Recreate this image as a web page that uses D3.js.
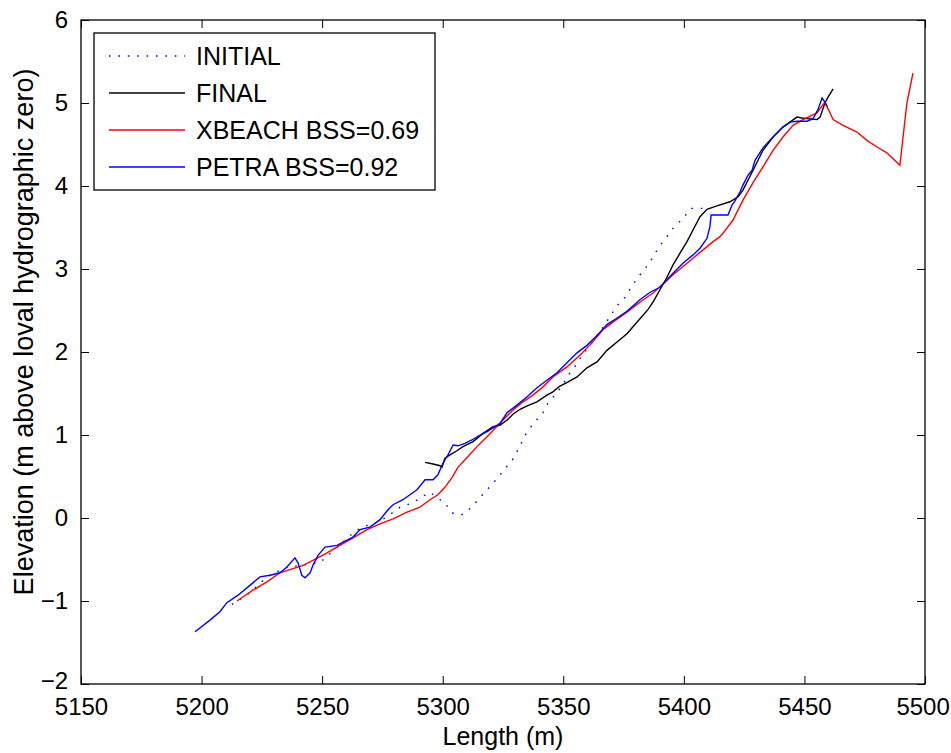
<!DOCTYPE html>
<html>
<head>
<meta charset="utf-8">
<script src="https://cdn.jsdelivr.net/npm/d3@7"></script>
<style>
  body { margin: 0; background: #fff; }
  svg text { font-family: "Liberation Sans", Arial, sans-serif; fill: #000; }
</style>
</head>
<body>
<svg id="chart" width="951" height="753"></svg>
<script>
// profile data, [length (m), elevation (m)]
var initialProfile = [[5212.6,-1.04],[5218.8,-0.93],[5223.4,-0.81],[5227.1,-0.71],[5234.6,-0.60],[5240.8,-0.57],[5249.1,-0.54],[5252.0,-0.46],[5259.5,-0.27],[5262.8,-0.18],[5266.5,-0.11],[5274.0,-0.04],[5279.0,0.06],[5282.3,0.13],[5287.3,0.18],[5290.6,0.24],[5294.7,0.31],[5300.9,0.18],[5303.9,0.06],[5308.0,0.04],[5312.1,0.13],[5314.6,0.22],[5318.4,0.34],[5322.1,0.46],[5325.4,0.58],[5328.7,0.69],[5330.8,0.80],[5332.9,0.92],[5335.0,1.04],[5338.3,1.16],[5341.6,1.27],[5343.7,1.39],[5347.4,1.51],[5350.3,1.63],[5352.8,1.75],[5355.7,1.86],[5358.2,1.98],[5361.1,2.08],[5364.0,2.20],[5367.3,2.33],[5369.8,2.45],[5372.7,2.57],[5376.0,2.67],[5378.5,2.80],[5381.0,2.90],[5384.3,3.02],[5387.2,3.14],[5389.7,3.27],[5393.0,3.39],[5395.5,3.49],[5399.6,3.61],[5403.0,3.73],[5408.4,3.73]];

var finalProfile = [[5292.7,0.67],[5296.0,0.65],[5298.9,0.63],[5299.7,0.61],[5300.9,0.72],[5303.0,0.76],[5305.9,0.81],[5308.4,0.86],[5312.6,0.92],[5316.7,1.02],[5320.9,1.10],[5323.8,1.12],[5326.7,1.18],[5329.1,1.25],[5332.1,1.31],[5335.0,1.35],[5339.1,1.40],[5343.2,1.48],[5345.7,1.52],[5348.6,1.59],[5351.5,1.63],[5355.7,1.70],[5359.8,1.81],[5364.0,1.88],[5368.1,2.02],[5372.3,2.12],[5376.4,2.22],[5381.8,2.40],[5385.1,2.51],[5387.2,2.60],[5390.1,2.75],[5393.0,2.90],[5395.5,3.05],[5398.4,3.19],[5401.3,3.33],[5403.8,3.47],[5406.7,3.63],[5409.6,3.72],[5413.7,3.76],[5419.1,3.81],[5422.5,3.87],[5424.5,3.95],[5428.7,4.19],[5432.8,4.43],[5437.0,4.59],[5441.1,4.71],[5444.0,4.77],[5446.9,4.83],[5449.0,4.82],[5455.2,4.80],[5456.5,4.83],[5458.5,5.00],[5459.8,5.07],[5461.9,5.17]];

var xbeachProfile = [[5214.7,-1.00],[5221.3,-0.87],[5227.1,-0.77],[5232.5,-0.66],[5237.9,-0.61],[5242.1,-0.57],[5246.2,-0.51],[5252.0,-0.42],[5257.4,-0.33],[5262.8,-0.24],[5268.6,-0.14],[5274.0,-0.07],[5279.4,-0.01],[5285.2,0.07],[5290.6,0.13],[5294.7,0.22],[5298.0,0.28],[5300.9,0.37],[5303.9,0.49],[5306.3,0.61],[5310.1,0.73],[5314.2,0.86],[5318.4,0.98],[5321.7,1.08],[5325.0,1.18],[5329.1,1.30],[5333.3,1.40],[5337.4,1.48],[5341.6,1.58],[5345.7,1.70],[5351.5,1.82],[5356.9,1.96],[5361.9,2.11],[5366.5,2.27],[5370.6,2.36],[5376.4,2.48],[5381.8,2.60],[5387.2,2.71],[5391.4,2.82],[5395.5,2.93],[5401.3,3.07],[5406.7,3.20],[5409.6,3.27],[5412.1,3.33],[5415.0,3.39],[5416.2,3.43],[5420.4,3.59],[5424.5,3.83],[5428.7,4.04],[5432.8,4.23],[5437.0,4.43],[5441.1,4.59],[5445.3,4.73],[5449.4,4.80],[5455.2,4.88],[5458.5,5.01],[5461.9,4.80],[5466.0,4.73],[5471.8,4.65],[5475.9,4.55],[5480.1,4.47],[5484.2,4.40],[5489.6,4.25],[5490.9,4.59],[5492.5,5.00],[5495.0,5.36]];

var petraProfile = [[5197.3,-1.37],[5203.5,-1.23],[5207.6,-1.13],[5210.5,-1.02],[5215.1,-0.93],[5219.3,-0.83],[5224.2,-0.71],[5228.4,-0.69],[5232.5,-0.66],[5235.4,-0.59],[5238.7,-0.48],[5240.0,-0.54],[5241.6,-0.69],[5242.9,-0.72],[5245.0,-0.66],[5246.2,-0.57],[5248.3,-0.45],[5251.2,-0.35],[5256.2,-0.33],[5258.7,-0.29],[5262.8,-0.23],[5265.7,-0.14],[5269.8,-0.11],[5274.0,-0.02],[5277.3,0.10],[5279.4,0.16],[5283.5,0.22],[5289.3,0.34],[5292.7,0.46],[5296.0,0.46],[5298.0,0.52],[5300.1,0.66],[5302.2,0.76],[5304.3,0.88],[5306.3,0.87],[5309.2,0.90],[5312.1,0.94],[5315.5,1.00],[5318.4,1.04],[5321.7,1.10],[5323.8,1.14],[5326.7,1.27],[5330.8,1.36],[5335.0,1.46],[5339.1,1.57],[5343.2,1.66],[5347.4,1.75],[5351.5,1.87],[5355.7,1.99],[5359.8,2.08],[5364.0,2.20],[5368.1,2.33],[5372.3,2.41],[5376.4,2.49],[5381.8,2.63],[5386.0,2.72],[5390.1,2.78],[5393.0,2.87],[5395.5,2.95],[5399.6,3.07],[5403.8,3.17],[5406.7,3.25],[5409.6,3.37],[5410.8,3.51],[5411.3,3.65],[5418.3,3.65],[5420.0,3.77],[5421.2,3.82],[5423.3,3.93],[5424.5,4.01],[5426.6,4.13],[5428.3,4.19],[5429.5,4.31],[5432.8,4.46],[5435.7,4.55],[5438.6,4.64],[5441.1,4.71],[5444.0,4.77],[5446.9,4.78],[5451.1,4.78],[5453.6,4.81],[5455.6,4.92],[5457.3,5.06],[5458.5,5.01],[5459.4,4.96]];

var xTicks = [5150, 5200, 5250, 5300, 5350, 5400, 5450, 5500];
var yTicks = [-2, -1, 0, 1, 2, 3, 4, 5, 6];
var legendLabels = ["INITIAL", "FINAL", "XBEACH BSS=0.69", "PETRA BSS=0.92"];

var margin = {top: 20, left: 81, right: 26, bottom: 69};
var svg = d3.select("#chart");
var width = 951 - margin.left - margin.right,
    height = 753 - margin.top - margin.bottom;

var x = d3.scaleLinear().domain([5150, 5500]).range([0, width]);
var y = d3.scaleLinear().domain([-2, 6]).range([height, 0]);

var g = svg.append("g").attr("transform", "translate(" + margin.left + "," + margin.top + ")");

// matlab style: ticks point inward on all four sides
var tickLen = 8;
function styleAxis(sel) {
    sel.select(".domain").remove();
    sel.selectAll(".tick line").attr("stroke", "#000");
    sel.selectAll("text").style("font-size", "24px").attr("fill", "#000");
}

g.append("g").attr("transform", "translate(0," + height + ")")
    .call(d3.axisBottom(x).tickValues(xTicks).tickFormat(d3.format("d")).tickSizeInner(-tickLen).tickPadding(14))
    .call(styleAxis);
g.append("g")
    .call(d3.axisTop(x).tickValues(xTicks).tickFormat("").tickSizeInner(-tickLen))
    .call(styleAxis);
g.append("g")
    .call(d3.axisLeft(y).tickValues(yTicks).tickFormat(d3.format("d")).tickSizeInner(-tickLen).tickPadding(13))
    .call(styleAxis);
g.append("g").attr("transform", "translate(" + width + ",0)")
    .call(d3.axisRight(y).tickValues(yTicks).tickFormat("").tickSizeInner(-tickLen))
    .call(styleAxis);

g.selectAll(".tick text").attr("font-family", "Liberation Sans, Arial, sans-serif");
// lift the lowest y label a little so it clears the 5150 label
g.selectAll(".tick text").filter(function (d) { return d === -2; }).attr("dy", "0.2em");
// keep the last x label inside the window
g.selectAll(".tick text").filter(function (d) { return d === 5500; }).attr("dx", "-0.1em");

g.append("rect")
    .attr("width", width).attr("height", height)
    .attr("fill", "none").attr("stroke", "#000").attr("stroke-width", 1.3);

var line = d3.line()
    .x(function (d) { return x(d[0]); })
    .y(function (d) { return y(d[1]); });

var series = [
    {data: initialProfile, color: "#0000ff", dash: "1.6,7.8"},
    {data: finalProfile, color: "#000000", dash: null},
    {data: xbeachProfile, color: "#ff0000", dash: null},
    {data: petraProfile, color: "#0000ff", dash: null}
];

series.forEach(function (s) {
    g.append("path")
        .datum(s.data)
        .attr("d", line)
        .attr("fill", "none")
        .attr("stroke", s.color)
        .attr("stroke-width", 1.4)
        .attr("stroke-dasharray", s.dash);
});

// legend
var legend = svg.append("g").attr("transform", "translate(94,33)");
legend.append("rect")
    .attr("width", 341).attr("height", 157)
    .attr("fill", "#fff").attr("stroke", "#000").attr("stroke-width", 1.3);

legendLabels.forEach(function (label, i) {
    var yy = 23 + i * 37;
    legend.append("line")
        .attr("x1", 15).attr("x2", 91)
        .attr("y1", yy).attr("y2", yy)
        .attr("stroke", series[i].color)
        .attr("stroke-width", 1.4)
        .attr("stroke-dasharray", series[i].dash);
    legend.append("text")
        .attr("x", 102).attr("y", yy)
        .attr("dy", "0.36em")
        .style("font-size", "25px")
        .text(label);
});

// axis titles
svg.append("text")
    .attr("x", margin.left + width / 2).attr("y", 745)
    .attr("text-anchor", "middle")
    .style("font-size", "25px")
    .text("Length (m)");

svg.append("text")
    .attr("transform", "translate(33," + 332 + ") rotate(-90)")
    .attr("text-anchor", "middle")
    .style("font-size", "27px")
    .text("Elevation (m above loval hydrographic zero)");
</script>
</body>
</html>
